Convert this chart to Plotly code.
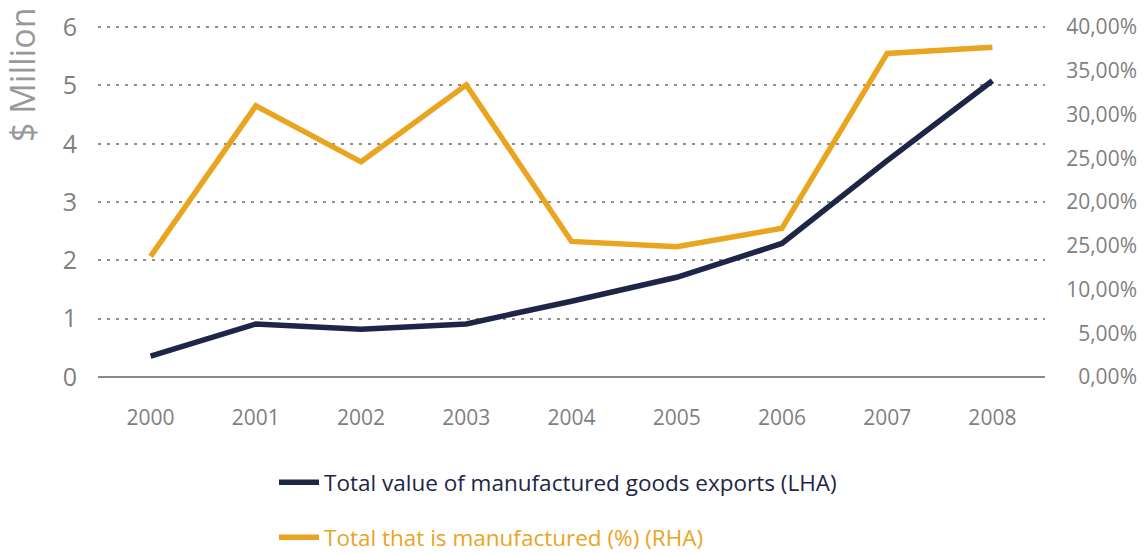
import plotly.graph_objects as go

years = ["2000", "2001", "2002", "2003", "2004", "2005", "2006", "2007", "2008"]
exports_musd = [0.36, 0.91, 0.82, 0.91, 1.30, 1.71, 2.29, 3.71, 5.08]
manufactured_pct = [13.8, 31.0, 24.6, 33.4, 15.5, 14.9, 17.0, 37.0, 37.7]

left_ticks = [0, 1, 2, 3, 4, 5, 6]
right_tickvals = [0, 5, 10, 15, 20, 25, 30, 35, 40]
right_ticktext = ["0,00%", "5,00%", "10,00%", "25,00%", "20,00%", "25,00%", "30,00%", "35,00%", "40,00%"]

NAVY = "#1d2646"
GOLD = "#E9A51F"
GRAY = "#7f7f7f"
FONT = "Open Sans"

fig = go.Figure()
fig.add_trace(go.Scatter(
    x=years, y=exports_musd, mode="lines", yaxis="y",
    line=dict(color=NAVY, width=5.5),
    name="Total value of manufactured goods exports (LHA)",
    legend="legend",
))
fig.add_trace(go.Scatter(
    x=years, y=manufactured_pct, mode="lines", yaxis="y2",
    line=dict(color=GOLD, width=5.5),
    name="<span style='color:%s'>Total that is manufactured (%%) (RHA)</span>" % GOLD,
    legend="legend2",
))

W, H = 1148, 554
L, R, T, B = 98, 5, 26, 177
plot_right = 1045
dom_end = (plot_right - L) / (W - L - R)
ph = H - T - B

def ypaper(px):
    return (H - B - px) / ph

leg_x = (274 - L) / (W - L - R)

fig.update_layout(
    width=W, height=H,
    margin=dict(l=L, r=R, t=T, b=B, autoexpand=False),
    paper_bgcolor="white", plot_bgcolor="white",
    font=dict(family=FONT, color=GRAY),
    showlegend=True,
    legend=dict(
        x=leg_x, y=ypaper(461), xanchor="left", yanchor="top",
        font=dict(family=FONT, size=22.5, color=NAVY),
        itemwidth=40, bgcolor="rgba(0,0,0,0)",
    ),
    legend2=dict(
        x=leg_x, y=ypaper(516), xanchor="left", yanchor="top",
        font=dict(family=FONT, size=22.5, color=GOLD),
        itemwidth=40, bgcolor="rgba(0,0,0,0)",
    ),
    xaxis=dict(
        domain=[0, dom_end], type="category", range=[-0.5, 8.5],
        showgrid=False, zeroline=False, showline=False,
        ticks="", tickfont=dict(size=21, color=GRAY, family=FONT),
        ticklabelstandoff=26,
        automargin=False,
    ),
    yaxis=dict(
        range=[0, 6.02], tickvals=left_ticks, showgrid=True,
        gridcolor="#8f8f8f", griddash="3px,6px", gridwidth=1.5,
        zeroline=True, zerolinecolor="#8a8a8a", zerolinewidth=2,
        showline=False, ticks="",
        tickfont=dict(size=25, color=GRAY, family=FONT),
        ticklabelstandoff=20, automargin=False,
    ),
    yaxis2=dict(
        range=[0, 40.13], tickvals=right_tickvals, ticktext=right_ticktext,
        overlaying="y", side="left", anchor="free", position=1.0,
        showgrid=False, zeroline=False, showline=False, ticks="",
        tickfont=dict(size=21, color=GRAY, family=FONT),
        ticklabelstandoff=6, automargin=False,
    ),
    annotations=[dict(
        text="$ Million", textangle=-90, showarrow=False,
        xref="paper", yref="paper", x=(22 - L) / (W - L - R), y=ypaper(75),
        xanchor="center", yanchor="middle",
        font=dict(size=34, color="#999999", family=FONT),
    )],
)

fig.write_html("out.html")
